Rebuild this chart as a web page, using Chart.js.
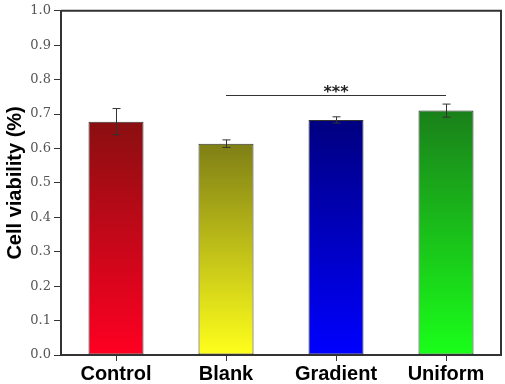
<!DOCTYPE html>
<html>
<head>
<meta charset="utf-8">
<script src="https://cdn.jsdelivr.net/npm/chart.js@4"></script>
<style>
  html, body { margin: 0; padding: 0; background: #fff; }
  #wrap { width: 505px; height: 384px; }
</style>
</head>
<body>
<div id="wrap"><canvas id="grafico" width="505" height="384"></canvas></div>
<script>
// dados
const categorias = ['Control', 'Blank', 'Gradient', 'Uniform'];
const viabilidade = [0.678, 0.614, 0.683, 0.710];
const erros = [0.038, 0.011, 0.009, 0.019];
const coresTopo = ['#8a0f10', '#7f7f16', '#000080', '#1a801a'];
const coresBase = ['#ff0022', '#ffff1c', '#0000ff', '#1aff1a'];
const yTicks = [0, 0.1, 0.2, 0.3, 0.4, 0.5, 0.6, 0.7, 0.8, 0.9, 1.0];
// significancia entre Blank e Uniform
const sigDe = 1, sigAte = 3, sigNivel = 0.755, sigTexto = '***';

const corEixo = '#333';

// gradiente vertical em cada barra (escuro em cima, claro embaixo)
function corBarra(ctx) {
  const chart = ctx.chart;
  const area = chart.chartArea;
  if (!area || ctx.dataIndex === undefined) return coresBase[0];
  const y = chart.scales.y;
  const topo = y.getPixelForValue(viabilidade[ctx.dataIndex]);
  const base = y.getPixelForValue(0);
  const g = chart.ctx.createLinearGradient(0, topo, 0, base);
  g.addColorStop(0, coresTopo[ctx.dataIndex]);
  g.addColorStop(1, coresBase[ctx.dataIndex]);
  return g;
}

// caixa + barras de erro + linha de significancia
const extras = {
  id: 'extras',
  afterDatasetsDraw(chart) {
    const c = chart.ctx;
    const x = chart.scales.x, y = chart.scales.y;
    c.save();
    c.strokeStyle = corEixo;
    c.lineWidth = 1;
    for (let i = 0; i < viabilidade.length; i++) {
      const cx = Math.round(x.getPixelForValue(i)) + 0.5;
      const y1 = y.getPixelForValue(viabilidade[i] + erros[i]);
      const y2 = y.getPixelForValue(viabilidade[i] - erros[i]);
      c.beginPath();
      c.moveTo(cx, y1); c.lineTo(cx, y2);
      c.moveTo(cx - 4, y1); c.lineTo(cx + 4, y1);
      c.moveTo(cx - 4, y2); c.lineTo(cx + 4, y2);
      c.stroke();
    }
    // linha ***
    const sy = Math.round(y.getPixelForValue(sigNivel)) + 0.5;
    const sx1 = x.getPixelForValue(sigDe), sx2 = x.getPixelForValue(sigAte);
    c.beginPath();
    c.moveTo(sx1, sy); c.lineTo(sx2, sy);
    c.stroke();
    c.fillStyle = '#222';
    c.font = 'bold 16px "DejaVu Sans"';
    c.textAlign = 'center';
    c.textBaseline = 'alphabetic';
    c.fillText(sigTexto, (sx1 + sx2) / 2, sy + 1);
    // moldura de cima e da direita
    const a = chart.chartArea;
    c.lineWidth = 2;
    c.beginPath();
    c.moveTo(a.left, a.top); c.lineTo(a.right, a.top); c.lineTo(a.right, a.bottom);
    c.stroke();
    c.restore();
  }
};

new Chart(document.getElementById('grafico'), {
  type: 'bar',
  data: {
    labels: categorias,
    datasets: [{
      data: viabilidade,
      backgroundColor: corBarra,
      borderColor: '#333',
      borderWidth: 1,
      borderSkipped: false,
      barPercentage: 0.5,
      categoryPercentage: 1.0
    }]
  },
  options: {
    responsive: false,
    animation: false,
    devicePixelRatio: 1,
    layout: { padding: { top: 6, right: 4, left: 0, bottom: 0 } },
    plugins: { legend: { display: false }, tooltip: { enabled: false } },
    scales: {
      x: {
        afterFit(s) { s.height = 29; },
        border: { color: corEixo, width: 2 },
        grid: { display: true, drawOnChartArea: false, offset: false, color: corEixo, tickLength: 6, lineWidth: 1 },
        ticks: { color: '#000', padding: 1, font: { family: '"Liberation Sans", Arial', size: 20, weight: 'bold' } }
      },
      y: {
        min: 0, max: 1,
        afterFit(s) { s.width = 61; },
        afterBuildTicks(s) { s.ticks = yTicks.map(v => ({ value: v })); },
        border: { color: corEixo, width: 2 },
        grid: { display: true, drawOnChartArea: false, color: corEixo, tickLength: 7, lineWidth: 1 },
        ticks: {
          color: '#555', padding: 3,
          font: { family: '"DejaVu Serif"', size: 13 },
          callback: v => Number(v).toFixed(1)
        },
        title: {
          display: true, text: 'Cell viability (%)', color: '#000', padding: { top: 3, bottom: 0 },
          font: { family: '"Liberation Sans", Arial', size: 20, weight: 'bold' }
        }
      }
    }
  },
  plugins: [extras]
});
</script>
</body>
</html>
